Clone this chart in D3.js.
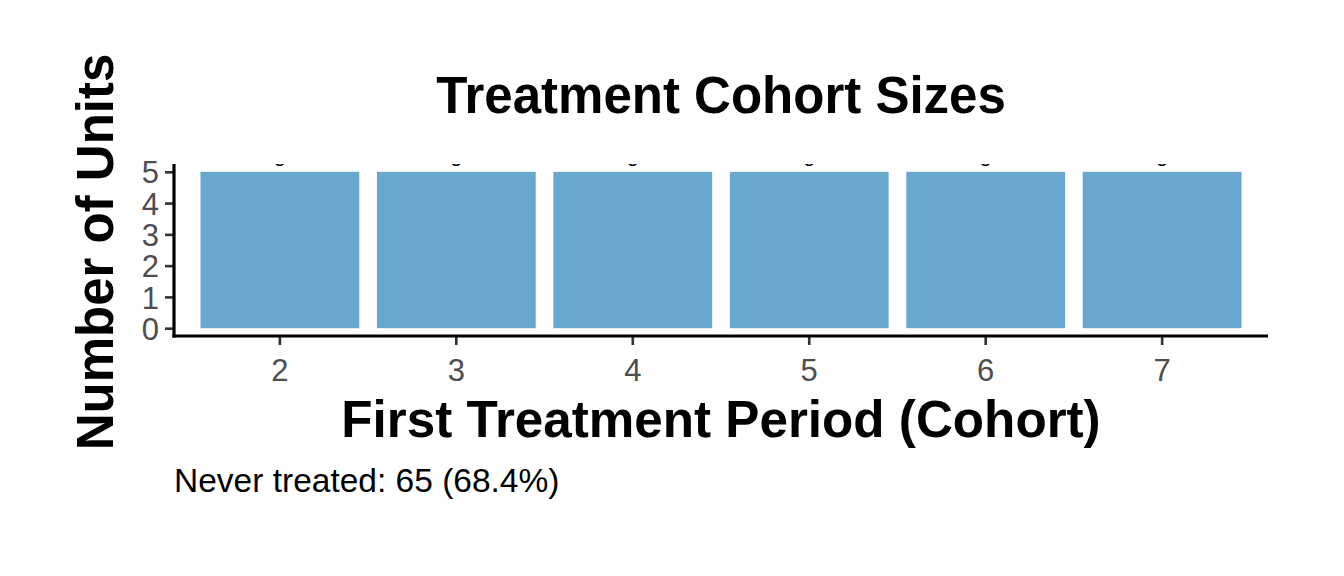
<!DOCTYPE html>
<html>
<head>
<meta charset="utf-8">
<script src="https://cdn.jsdelivr.net/npm/d3@7"></script>
<style>
  html, body { margin: 0; padding: 0; background: #ffffff; }
  svg { display: block; font-family: "Liberation Sans", Arial, Helvetica, sans-serif; }
</style>
</head>
<body>
<svg id="chart" width="1344" height="576"></svg>
<script>
const cohorts = ["2", "3", "4", "5", "6", "7"];
const unitCounts = [5, 5, 5, 5, 5, 5];
const yTicks = [0, 1, 2, 3, 4, 5];
const titleText = "Treatment Cohort Sizes";
const xLabel = "First Treatment Period (Cohort)";
const yLabel = "Number of Units";
const captionText = "Never treated: 65 (68.4%)";

const svg = d3.select("#chart");
const panel = { left: 174, right: 1268, top: 164, bottom: 336 };

const x = d3.scaleBand().domain(cohorts)
  .range([panel.left, panel.right]).paddingInner(0.1).paddingOuter(0.15);
const y = d3.scaleLinear().domain([-0.25, 5.25]).range([panel.bottom, panel.top]);

svg.append("defs").append("clipPath").attr("id", "panelClip")
  .append("rect").attr("x", panel.left).attr("y", panel.top)
  .attr("width", panel.right - panel.left).attr("height", panel.bottom - panel.top);

const g = svg.append("g").attr("clip-path", "url(#panelClip)");
const data = cohorts.map((c, i) => ({ c, v: unitCounts[i] }));

g.selectAll("rect.bar").data(data).enter().append("rect")
  .attr("class", "bar")
  .attr("x", d => x(d.c))
  .attr("width", x.bandwidth())
  .attr("y", d => y(d.v))
  .attr("height", d => y(0) - y(d.v))
  .attr("fill", "#69a8ce");

g.selectAll("text.lbl").data(data).enter().append("text")
  .attr("class", "lbl")
  .attr("x", d => x(d.c) + x.bandwidth() / 2)
  .attr("y", d => y(d.v) - 5.5)
  .attr("text-anchor", "middle")
  .attr("font-size", 20)
  .attr("fill", "#000")
  .text(d => d.v);

// Y axis
const yAxis = svg.append("g").attr("transform", `translate(${panel.left},0)`)
  .call(d3.axisLeft(y).tickValues(yTicks).tickSize(9).tickPadding(6).tickFormat(d3.format("d")));
yAxis.select(".domain").remove();
yAxis.selectAll(".tick line").attr("stroke", "#333333").attr("stroke-width", 2.6);
yAxis.selectAll(".tick text").attr("fill", "#4d4d4d").attr("font-size", 31)
  .attr("dy", "0.36em").attr("font-family", "Liberation Sans, Arial, sans-serif");

// X axis
const xAxis = svg.append("g").attr("transform", `translate(0,${panel.bottom})`)
  .call(d3.axisBottom(x).tickSize(9).tickPadding(6));
xAxis.select(".domain").remove();
xAxis.selectAll(".tick line").attr("stroke", "#333333").attr("stroke-width", 2.6);
xAxis.selectAll(".tick text").attr("fill", "#4d4d4d").attr("font-size", 31)
  .attr("y", 0).attr("dy", 0)
  .attr("transform", "translate(0,45)")
  .attr("font-family", "Liberation Sans, Arial, sans-serif");

// Axis lines
svg.append("line").attr("x1", panel.left).attr("x2", panel.left)
  .attr("y1", panel.top).attr("y2", panel.bottom + 1.6)
  .attr("stroke", "#000").attr("stroke-width", 3.2);
svg.append("line").attr("x1", panel.left - 1.6).attr("x2", panel.right)
  .attr("y1", panel.bottom).attr("y2", panel.bottom)
  .attr("stroke", "#000").attr("stroke-width", 3.2);

// Title
svg.append("text").attr("x", 721).attr("y", 113)
  .attr("text-anchor", "middle").attr("font-size", 51).attr("font-weight", "bold")
  .attr("fill", "#000").text(titleText);

// X label
svg.append("text").attr("x", 721).attr("y", 436.5)
  .attr("text-anchor", "middle").attr("font-size", 51.2).attr("font-weight", "bold")
  .attr("fill", "#000").text(xLabel);

// Y label
svg.append("text").attr("transform", "translate(113,252) rotate(-90)")
  .attr("text-anchor", "middle").attr("font-size", 51).attr("font-weight", "bold")
  .attr("fill", "#000").text(yLabel);

// Caption
svg.append("text").attr("x", 174).attr("y", 492)
  .attr("text-anchor", "start").attr("font-size", 33.5)
  .attr("fill", "#000").text(captionText);
</script>
</body>
</html>
